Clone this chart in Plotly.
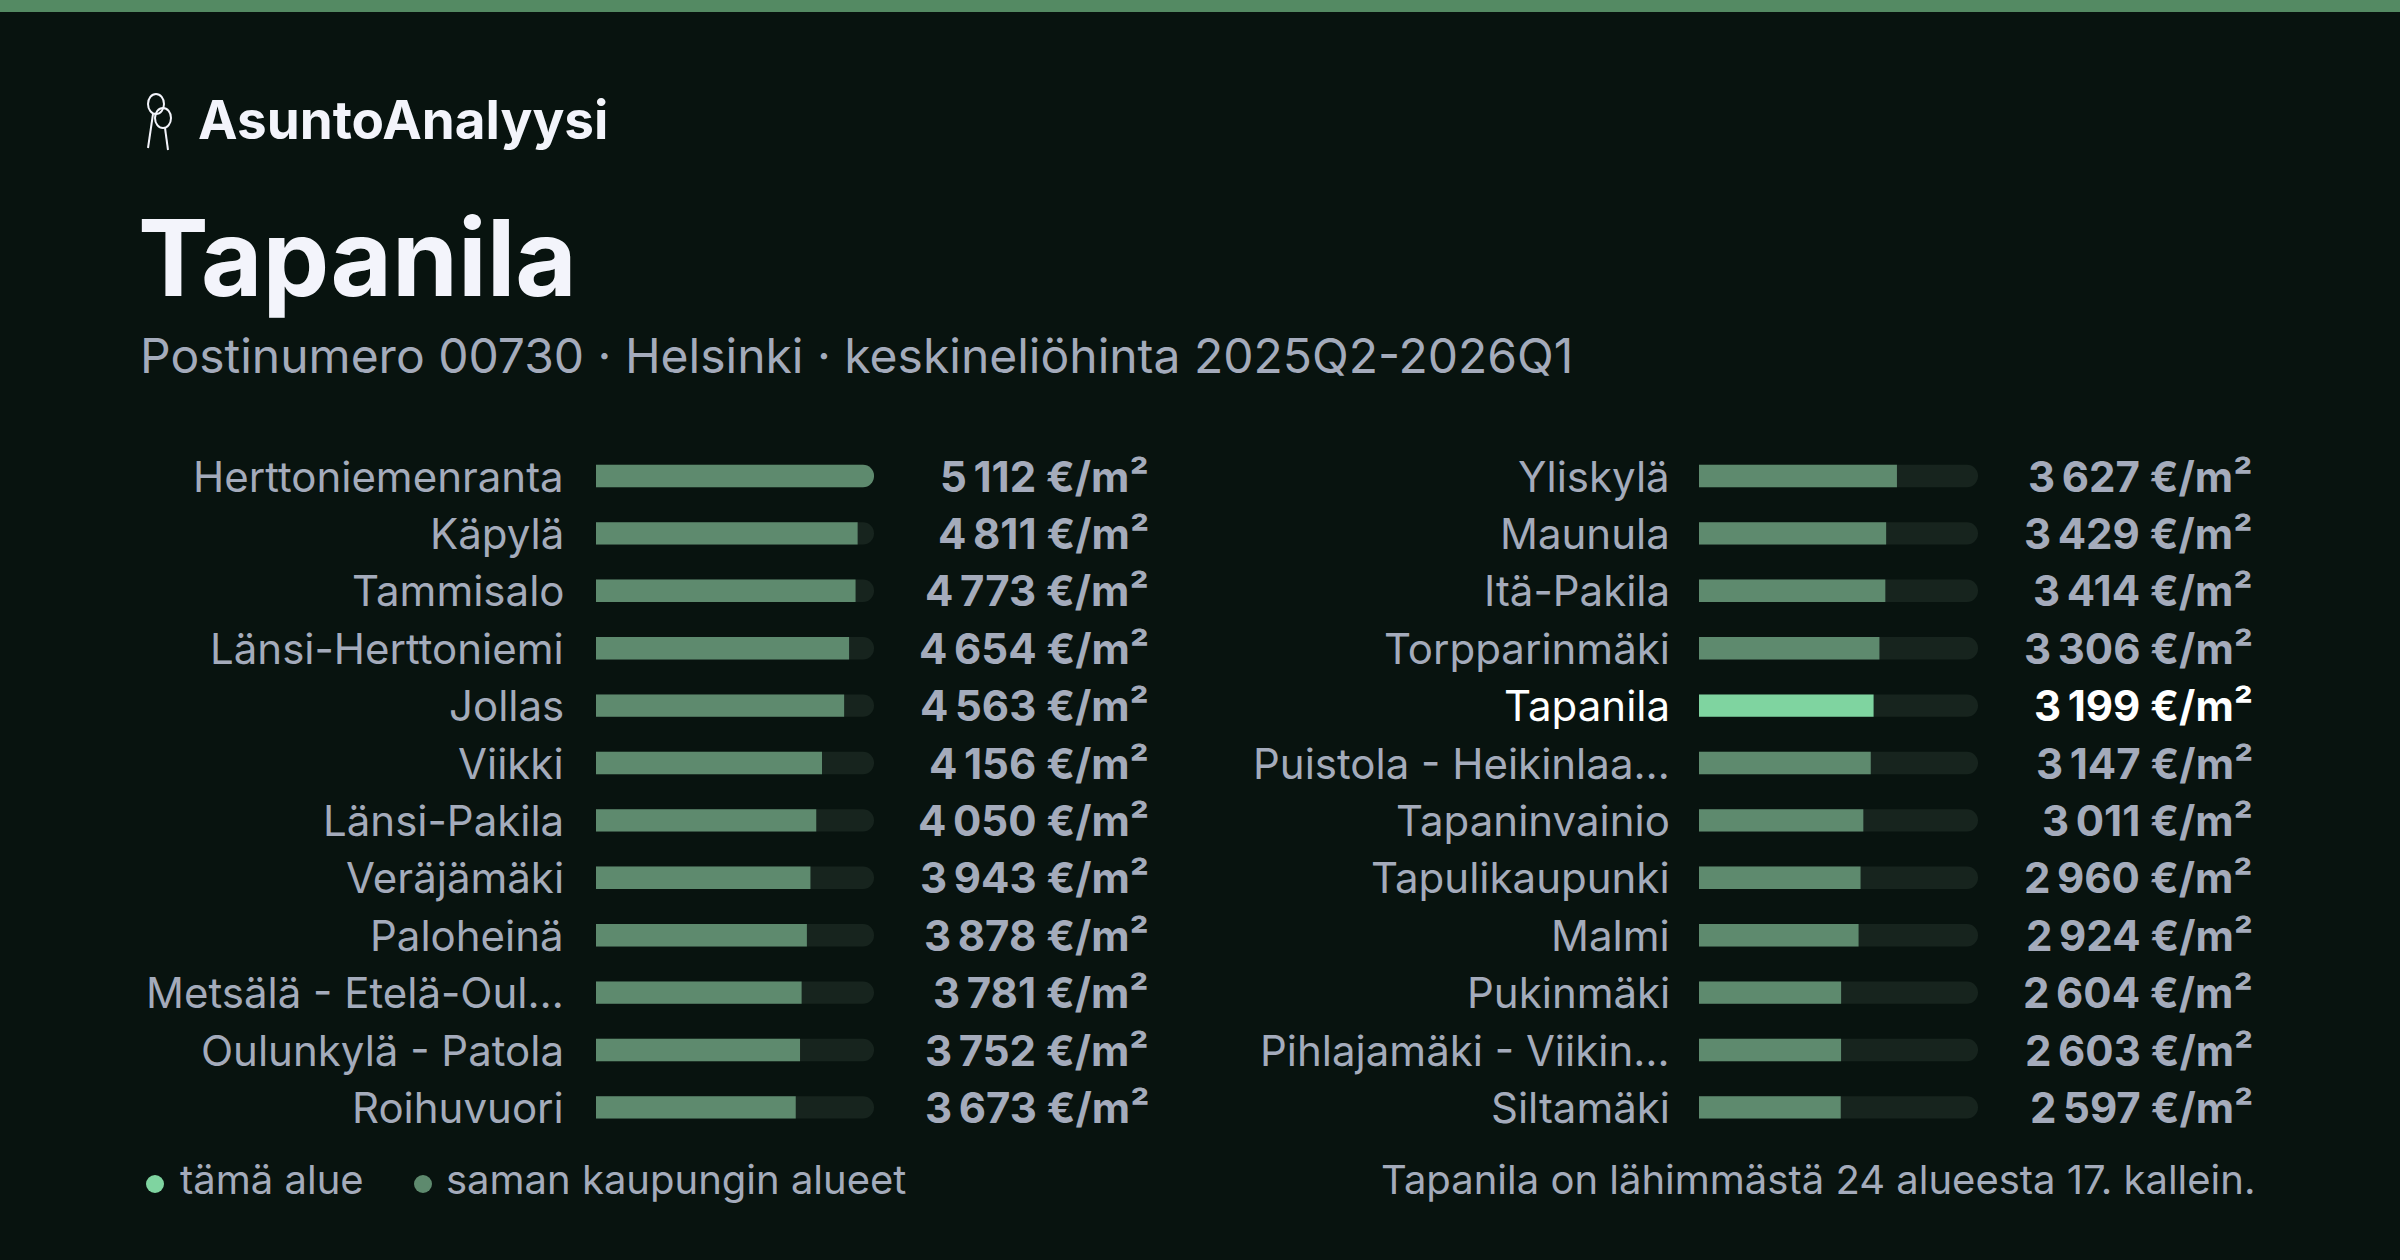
import plotly.graph_objects as go

left_names = ["Herttoniemenranta","Käpylä","Tammisalo","Länsi-Herttoniemi","Jollas","Viikki",
              "Länsi-Pakila","Veräjämäki","Paloheinä","Metsälä - Etelä-Oul…","Oulunkylä - Patola","Roihuvuori"]
left_vals = [5112,4811,4773,4654,4563,4156,4050,3943,3878,3781,3752,3673]
right_names = ["Yliskylä","Maunula","Itä-Pakila","Torpparinmäki","Tapanila","Puistola - Heikinlaa…",
               "Tapaninvainio","Tapulikaupunki","Malmi","Pukinmäki","Pihlajamäki - Viikin…","Siltamäki"]
right_vals = [3627,3429,3414,3306,3199,3147,3011,2960,2924,2604,2603,2597]
current = "Tapanila"
vmax = max(left_vals + right_vals)

W, H = 2400, 1260
BG = "#08130f"; BAR = "#5e8a6e"; HI = "#7fd4a0"; TRACK = "#17241e"
TXT = "#a4abbb"; WHITE = "#f3f4fb"
FONT = "Inter"

row0, step = 476, 57.4
yr = [(H - row0) / step, -row0 / step]

fig = go.Figure()
cols = [(left_names, left_vals, "x", [596/W, 874/W], 566, 1151),
        (right_names, right_vals, "x2", [1699/W, 1978/W], 1672, 2255)]
ann = []
for names, vals, xa, dom, lab_x, val_x in cols:
    ys = list(range(len(names)))
    fig.add_trace(go.Bar(x=[vmax]*len(vals), y=ys, orientation="h", xaxis=xa, yaxis="y",
                         marker=dict(color=TRACK, cornerradius=11, line_width=0), width=0.39,
                         hoverinfo="skip", showlegend=False))
    fig.add_trace(go.Bar(x=vals, y=ys, orientation="h", xaxis=xa, yaxis="y",
                         marker=dict(color=[HI if n == current else BAR for n in names],
                                     cornerradius=11, line_width=0),
                         width=0.39, showlegend=False))
    for i, (n, v) in enumerate(zip(names, vals)):
        c = "#ffffff" if n == current else TXT
        ann.append(dict(x=lab_x/W, xref="paper", y=i, yref="y", text=n, xanchor="right",
                        showarrow=False, font=dict(family=FONT, size=42, color=c)))
        ann.append(dict(x=val_x/W, xref="paper", y=i, yref="y",
                        text="<b>" + f"{v:,}".replace(",", "\u202f") + " €/m²</b>", xanchor="right",
                        showarrow=False, font=dict(family=FONT, size=42, color=c)))

def pa(x, y, text, size, color, bold=False, anchor="left"):
    ann.append(dict(x=x/W, y=1-y/H, xref="paper", yref="paper", xanchor=anchor, yanchor="middle",
                    text=f"<b>{text}</b>" if bold else text, showarrow=False,
                    font=dict(family=FONT, size=size, color=color)))

pa(196, 120, "AsuntoAnalyysi", 53, WHITE, True)
pa(136, 258, "Tapanila", 106, WHITE, True)
pa(138, 355, "Postinumero 00730 · Helsinki · keskineliöhinta 2025Q2-2026Q1", 48, TXT)
pa(178, 1179, "tämä alue", 40, TXT)
pa(444, 1179, "saman kaupungin alueet", 40, TXT)
pa(2257, 1179, "Tapanila on lähimmästä 24 alueesta 17. kallein.", 40, TXT, anchor="right")

shapes = [dict(type="rect", xref="paper", yref="paper", x0=0, x1=1, y0=1-12/H, y1=1,
               fillcolor="#548a63", line_width=0)]
for cx, col in [(155, HI), (423, BAR)]:
    shapes.append(dict(type="circle", xref="paper", yref="paper", x0=(cx-9)/W, x1=(cx+9)/W,
                       y0=1-(1184+9)/H, y1=1-(1184-9)/H, fillcolor=col, line_width=0))
# key icon
for cx, cy in [(156, 104), (163, 118)]:
    shapes.append(dict(type="circle", xref="paper", yref="paper", x0=(cx-8)/W, x1=(cx+8)/W,
                       y0=1-(cy+10)/H, y1=1-(cy-10)/H, line=dict(color=WHITE, width=2)))
shapes.append(dict(type="line", xref="paper", yref="paper", x0=153/W, x1=148/W, y0=1-114/H, y1=1-148/H,
                   line=dict(color=WHITE, width=2)))
shapes.append(dict(type="line", xref="paper", yref="paper", x0=165/W, x1=168/W, y0=1-128/H, y1=1-150/H,
                   line=dict(color=WHITE, width=2)))

ax = dict(range=[0, vmax], visible=False, fixedrange=True)
fig.update_layout(width=W, height=H, margin=dict(l=0, r=0, t=0, b=0),
                  paper_bgcolor=BG, plot_bgcolor=BG, barmode="overlay",
                  xaxis=dict(domain=cols[0][3], **ax), xaxis2=dict(domain=cols[1][3], **ax),
                  yaxis=dict(range=yr, visible=False, domain=[0, 1]),
                  annotations=ann, shapes=shapes)
fig.write_html("out.html", config={"displayModeBar": False},
               post_script="document.body.style.margin='0';document.body.style.background='#08130f';")
